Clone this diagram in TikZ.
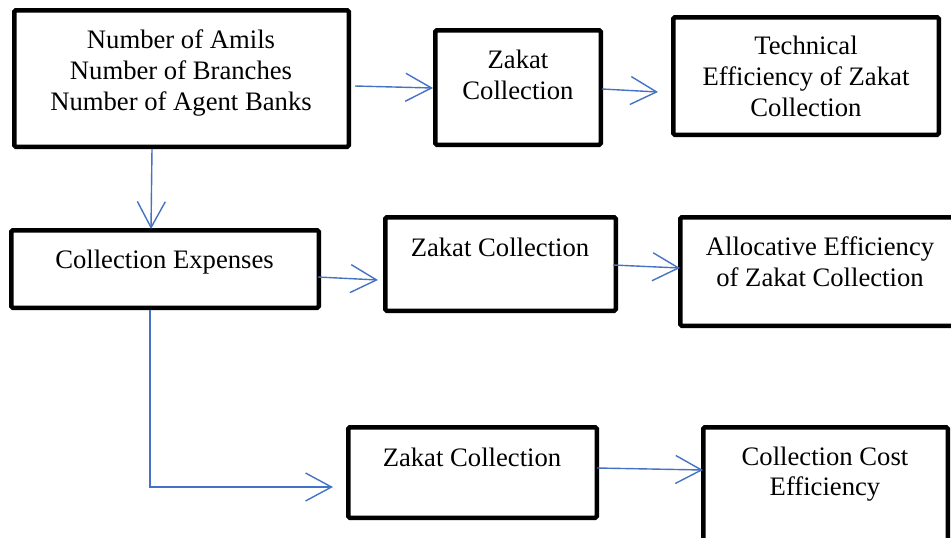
\documentclass[tikz,border=0pt]{standalone}
\usepackage{fontspec}
\setmainfont{Liberation Serif}
\usetikzlibrary{arrows.meta}
\begin{document}
\def\px{0.75pt}
\begin{tikzpicture}[x=\px, y=-\px,
  box/.style={draw=black, line width=4.5*\px, rounded corners=1.5*\px,
              inner sep=0pt, fill=white},
  txt/.style={align=center, inner sep=0pt, font=\fontsize{20}{23}\selectfont},
  arr/.style={draw={rgb,255:red,68;green,114;blue,196}, line width=1.4*\px,
              -{Straight Barb[length=26*\px, width=28*\px, line width=1.4*\px]}}]
  \useasboundingbox (0,0) rectangle (951,537);
  % boxes (centre, width, height of the border path)
  \node[box, minimum width=334.5*\px, minimum height=136.5*\px] (inputs) at (181.5,78.5) {};
  \node[box, minimum width=165.5*\px, minimum height=114.5*\px] (zc1) at (518,87.5) {};
  \node[box, minimum width=265.5*\px, minimum height=117.5*\px] (tech) at (806,76) {};
  \node[box, minimum width=307.5*\px, minimum height=77.5*\px] (exp) at (165,269) {};
  \node[box, minimum width=230.5*\px, minimum height=93.5*\px] (zc2) at (500.5,264) {};
  \node[box, minimum width=282.5*\px, minimum height=108.5*\px] (alloc) at (821.5,271.5) {};
  \node[box, minimum width=248.5*\px, minimum height=90.5*\px] (zc3) at (472.5,472.5) {};
  \node[box, minimum width=244.5*\px, minimum height=140.5*\px] (cost) at (825.5,497.5) {};
  % labels
  \node[txt] (t-inputs) at (181,73) {Number of Amils\\Number of Branches\\Number of Agent Banks};
  \node[txt] (t-zc1) at (518,75) {Zakat\\Collection};
  \node[txt] (t-tech) at (806,76.5) {Technical\\Efficiency of Zakat\\Collection};
  \node[txt] (t-exp) at (164.5,262) {Collection Expenses};
  \node[txt] (t-zc2) at (500,247) {Zakat Collection};
  \node[txt] (t-alloc) at (820,262) {Allocative Efficiency\\of Zakat Collection};
  \node[txt] (t-zc3) at (472,457) {Zakat Collection};
  \node[txt] (t-cost) at (825,474) {Collection Cost\\Efficiency};
  % connectors
  \coordinate (turn) at (150,487);
  \coordinate (end3) at (333,487);
  \draw[arr] ([xshift=4*\px, yshift=-7.5*\px]inputs.east) -- ([yshift=-0.5*\px]zc1.west);
  \draw[arr] ([xshift=-1*\px, yshift=-1.5*\px]zc1.east) -- ([xshift=-13*\px, yshift=-16*\px]tech.west);
  \draw[arr] ([xshift=-29.5*\px]inputs.south) -- ([xshift=-14*\px, yshift=-1*\px]exp.north);
  \draw[arr] ([xshift=-3*\px, yshift=-8*\px]exp.east) -- ([xshift=-5*\px, yshift=-16*\px]zc2.west);
  \draw[arr] ([xshift=-5*\px, yshift=-1*\px]zc2.east) -- ([xshift=2*\px, yshift=3.5*\px]alloc.west);
  \draw[arr] ([xshift=-15*\px]exp.south) -- (turn) -- (end3);
  \draw[arr] ([xshift=-2*\px, yshift=4.5*\px]zc3.east) -- ([xshift=2*\px, yshift=27.5*\px]cost.west);
\end{tikzpicture}
\end{document}
